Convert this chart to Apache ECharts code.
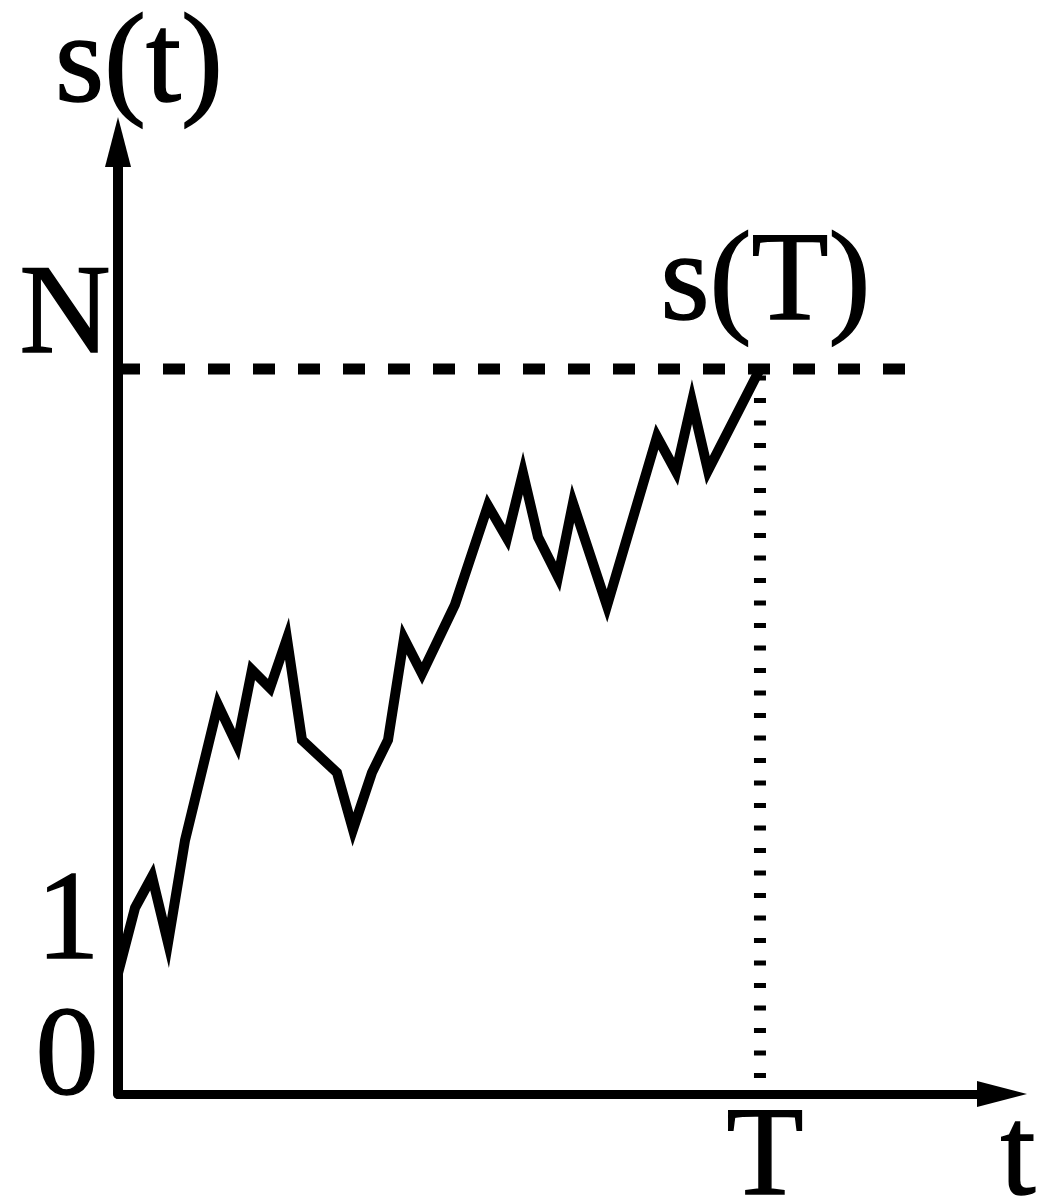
<!DOCTYPE html>
<html>
<head>
<meta charset="utf-8">
<script src="https://cdn.jsdelivr.net/npm/echarts@6/dist/echarts.min.js"></script>
<style>
  html, body { margin: 0; padding: 0; background: #fff; }
  #chart { width: 1044px; height: 1198px; }
</style>
</head>
<body>
<div id="chart"></div>
<script>
// Random walk s(t) started at level 1 and stopped when it first reaches level N at time T.
const T = 100;
const N = 6;

const walkTime = [
  0, 2.65, 5.30, 7.79, 10.44, 15.58, 18.54, 20.87, 23.68, 26.32,
  28.66, 34.11, 36.60, 39.56, 42.06, 44.55, 47.35, 52.49, 57.63, 60.59,
  63.08, 65.42, 68.54, 70.87, 76.17, 83.96, 86.92, 89.41, 91.90, 100
];
const walkLevel = [
  1.00, 1.54, 1.80, 1.25, 2.10, 3.22, 2.89, 3.51, 3.36, 3.77,
  2.93, 2.66, 2.19, 2.66, 2.93, 3.77, 3.48, 4.05, 4.87, 4.60,
  5.14, 4.61, 4.28, 4.89, 4.04, 5.44, 5.15, 5.73, 5.16, 6.00
];

const levelTicks = [0, 1, N];
const levelTickLabels = ['0', '1', 'N'];
const timeTicks = [T];
const timeTickLabels = ['T'];
const barrierEnd = 122.6;      // right end of the dashed level-N line

const X_MAX = 137.7;
const Y_MAX = 7.879;

const FONT_SIZE = 126;
const FONT = FONT_SIZE + 'px "Liberation Serif", "DejaVu Serif", serif';
const MID = 0.3375 * FONT_SIZE - 8;   // distance from alphabetic baseline to text middle

const chart = echarts.init(document.getElementById('chart'), null, { renderer: 'canvas' });

const axisCommon = {
  type: 'value',
  min: 0,
  axisTick: { show: false },
  axisLabel: { show: false },
  splitLine: { show: false }
};

chart.setOption({
  animation: false,
  backgroundColor: '#ffffff',
  grid: { left: 118, top: 142, width: 884, height: 952, containLabel: false },
  xAxis: Object.assign({}, axisCommon, {
    max: X_MAX,
    axisLine: {
      show: true, onZero: false,
      symbol: ['none', 'triangle'], symbolSize: [26, 50],
      lineStyle: { color: '#000', width: 9 }
    }
  }),
  yAxis: Object.assign({}, axisCommon, {
    max: Y_MAX,
    axisLine: {
      show: true, onZero: false,
      symbol: ['none', 'triangle'], symbolSize: [26, 50],
      lineStyle: { color: '#000', width: 10 }
    }
  }),
  series: [
    {
      name: 'barrier',
      type: 'line',
      data: [[0, N], [barrierEnd, N]],
      symbol: 'none',
      silent: true,
      z: 2,
      lineStyle: { color: '#000', width: 11, type: [22, 23], dashOffset: 0, cap: 'butt' }
    },
    {
      name: 'hitting time',
      type: 'line',
      data: [[T, N], [T, 0]],
      symbol: 'none',
      silent: true,
      z: 2,
      lineStyle: { color: '#000', width: 12, type: [5, 17.5], dashOffset: 16, cap: 'butt' }
    },
    {
      name: 's(t)',
      type: 'line',
      data: walkTime.map((t, i) => [t, walkLevel[i]]),
      symbol: 'none',
      silent: true,
      z: 3,
      lineStyle: { color: '#000', width: 10, join: 'miter', miterLimit: 30, cap: 'butt' }
    }
  ]
});

// Text labels placed from data coordinates
const px = (t, s) => chart.convertToPixel({ gridIndex: 0 }, [t, s]);

function textEl(text, cx, baseline) {
  return {
    type: 'text',
    x: cx,
    y: baseline - MID,
    silent: true,
    z: 10,
    style: {
      text: text, font: FONT, fill: '#000',
      stroke: '#000', lineWidth: 1.5,
      align: 'center', verticalAlign: 'middle'
    }
  };
}

// horizontal centre offset and baseline offset of each level label from its tick
const levelLabelShift = { '0': [-51, 1], '1': [-50, -14], 'N': [-53, -16] };

const texts = [];
levelTicks.forEach((v, i) => {
  const p = px(0, v);
  const lab = levelTickLabels[i];
  const d = levelLabelShift[lab];
  texts.push(textEl(lab, p[0] + d[0], p[1] + d[1]));
});
timeTicks.forEach((t, i) => {
  const p = px(t, 0);
  texts.push(textEl(timeTickLabels[i], p[0] + 5, p[1] + 101));
});

const yTop = px(0, Y_MAX);
texts.push(textEl('s(t)', yTop[0] + 21, yTop[1] - 40));
const xEnd = px(X_MAX, 0);
texts.push(textEl('t', xEnd[0] + 16, xEnd[1] + 101));
const hit = px(T, N);
texts.push(textEl('s(T)', hit[0] + 5.5, hit[1] - 49));

chart.setOption({ graphic: texts });
</script>
</body>
</html>
